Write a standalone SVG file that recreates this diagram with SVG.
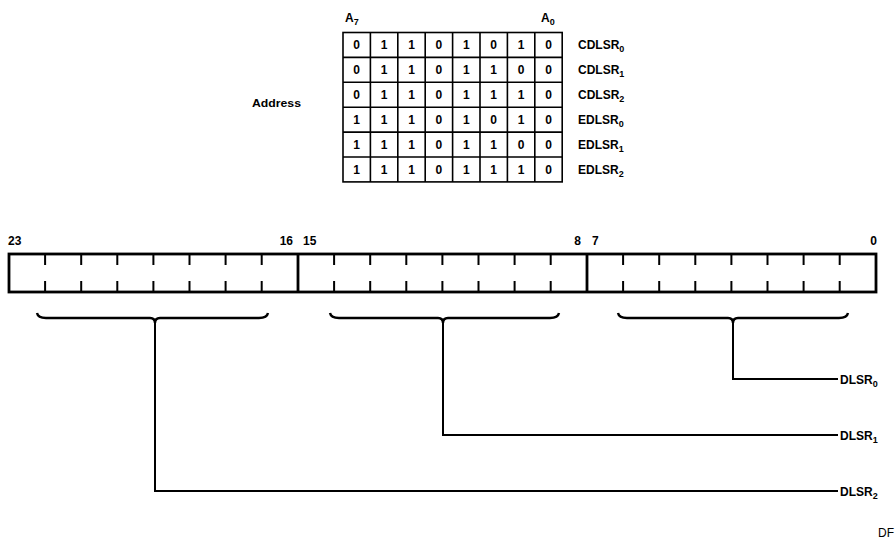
<svg xmlns="http://www.w3.org/2000/svg" width="896" height="544" viewBox="0 0 896 544">
<style>
text{font-family:"Liberation Sans",Arial,sans-serif;font-weight:bold;fill:#000}
.d{font-size:12px;text-anchor:middle}
.l{font-size:12px}
.s{font-size:9px}
.grid{stroke:#000;stroke-width:1.6;fill:none}
.reg{stroke:#000;stroke-width:2.8;fill:none}
.tick{stroke:#000;stroke-width:2}
.brace{stroke:#000;stroke-width:2.4;fill:none}
.conn{stroke:#000;stroke-width:2;fill:none}
</style>
<rect width="896" height="544" fill="#fff"/>

<g id="address-table">
  <text class="l" x="252" y="107" textLength="49" lengthAdjust="spacingAndGlyphs" style="font-size:11px">Address</text>
  <text class="l" x="345" y="22">A<tspan class="s" dy="3">7</tspan></text>
  <text class="l" x="541" y="22">A<tspan class="s" dy="3">0</tspan></text>
  <rect class="grid" x="343" y="32.5" width="219.2" height="149.4" stroke-width="2"/>
  <path class="grid" d="M370.4 32.5V181.9M397.8 32.5V181.9M425.2 32.5V181.9M452.6 32.5V181.9M480 32.5V181.9M507.4 32.5V181.9M534.8 32.5V181.9M343 57.4H562.2M343 82.3H562.2M343 107.2H562.2M343 132.1H562.2M343 157H562.2"/>
  <g class="d">
    <text x="356.7" y="49.3">0</text><text x="384.1" y="49.3">1</text><text x="411.5" y="49.3">1</text><text x="438.9" y="49.3">0</text><text x="466.3" y="49.3">1</text><text x="493.7" y="49.3">0</text><text x="521.1" y="49.3">1</text><text x="548.5" y="49.3">0</text>
    <text x="356.7" y="74.2">0</text><text x="384.1" y="74.2">1</text><text x="411.5" y="74.2">1</text><text x="438.9" y="74.2">0</text><text x="466.3" y="74.2">1</text><text x="493.7" y="74.2">1</text><text x="521.1" y="74.2">0</text><text x="548.5" y="74.2">0</text>
    <text x="356.7" y="99.1">0</text><text x="384.1" y="99.1">1</text><text x="411.5" y="99.1">1</text><text x="438.9" y="99.1">0</text><text x="466.3" y="99.1">1</text><text x="493.7" y="99.1">1</text><text x="521.1" y="99.1">1</text><text x="548.5" y="99.1">0</text>
    <text x="356.7" y="124">1</text><text x="384.1" y="124">1</text><text x="411.5" y="124">1</text><text x="438.9" y="124">0</text><text x="466.3" y="124">1</text><text x="493.7" y="124">0</text><text x="521.1" y="124">1</text><text x="548.5" y="124">0</text>
    <text x="356.7" y="148.9">1</text><text x="384.1" y="148.9">1</text><text x="411.5" y="148.9">1</text><text x="438.9" y="148.9">0</text><text x="466.3" y="148.9">1</text><text x="493.7" y="148.9">1</text><text x="521.1" y="148.9">0</text><text x="548.5" y="148.9">0</text>
    <text x="356.7" y="173.8">1</text><text x="384.1" y="173.8">1</text><text x="411.5" y="173.8">1</text><text x="438.9" y="173.8">0</text><text x="466.3" y="173.8">1</text><text x="493.7" y="173.8">1</text><text x="521.1" y="173.8">1</text><text x="548.5" y="173.8">0</text>
  </g>
  <text class="l" x="578" y="49">CDLSR<tspan class="s" dy="3">0</tspan></text>
  <text class="l" x="578" y="73.9">CDLSR<tspan class="s" dy="3">1</tspan></text>
  <text class="l" x="578" y="98.8">CDLSR<tspan class="s" dy="3">2</tspan></text>
  <text class="l" x="578" y="123.7">EDLSR<tspan class="s" dy="3">0</tspan></text>
  <text class="l" x="578" y="148.6">EDLSR<tspan class="s" dy="3">1</tspan></text>
  <text class="l" x="578" y="173.5">EDLSR<tspan class="s" dy="3">2</tspan></text>
</g>

<g id="register">
  <text class="l" x="8" y="245">23</text>
  <text class="l" x="293" y="245" text-anchor="end">16</text>
  <text class="l" x="303" y="245">15</text>
  <text class="l" x="581" y="245" text-anchor="end">8</text>
  <text class="l" x="592" y="245">7</text>
  <text class="l" x="877" y="245" text-anchor="end">0</text>
  <rect class="reg" x="9" y="254" width="867" height="38"/>
  <path class="reg" d="M298 254V292M587 254V292"/>
  <path class="tick" d="M45.1 254v11M81.2 254v11M117.3 254v11M153.4 254v11M189.5 254v11M225.6 254v11M261.7 254v11M45.1 292v-11M81.2 292v-11M117.3 292v-11M153.4 292v-11M189.5 292v-11M225.6 292v-11M261.7 292v-11
  M334.1 254v11M370.2 254v11M406.3 254v11M442.4 254v11M478.5 254v11M514.6 254v11M550.7 254v11M334.1 292v-11M370.2 292v-11M406.3 292v-11M442.4 292v-11M478.5 292v-11M514.6 292v-11M550.7 292v-11
  M623.1 254v11M659.2 254v11M695.3 254v11M731.4 254v11M767.5 254v11M803.6 254v11M839.7 254v11M623.1 292v-11M659.2 292v-11M695.3 292v-11M731.4 292v-11M767.5 292v-11M803.6 292v-11M839.7 292v-11"/>
</g>

<g id="braces">
  <path class="brace" d="M37 313Q38 318 46 318H150Q155 318 155 323Q155 318 160 318H259Q267 318 268 313"/>
  <path class="brace" d="M330 313Q331 318 339 318H438Q443 318 443 323Q443 318 448 318H550Q558 318 559 313"/>
  <path class="brace" d="M618 313Q619 318 627 318H728Q733 318 733 323Q733 318 738 318H839Q847 318 848 313"/>
</g>

<g id="connectors">
  <path class="conn" d="M733 323V379H838"/>
  <path class="conn" d="M443 323V435H838"/>
  <path class="conn" d="M155 323V491H838"/>
</g>

<g id="dlsr-labels">
  <text class="l" x="840" y="383.5">DLSR<tspan class="s" dy="3">0</tspan></text>
  <text class="l" x="840" y="439.5">DLSR<tspan class="s" dy="3">1</tspan></text>
  <text class="l" x="840" y="495.5">DLSR<tspan class="s" dy="3">2</tspan></text>
</g>

<text x="878" y="537" style="font-weight:normal;font-size:12px">DF</text>
</svg>
